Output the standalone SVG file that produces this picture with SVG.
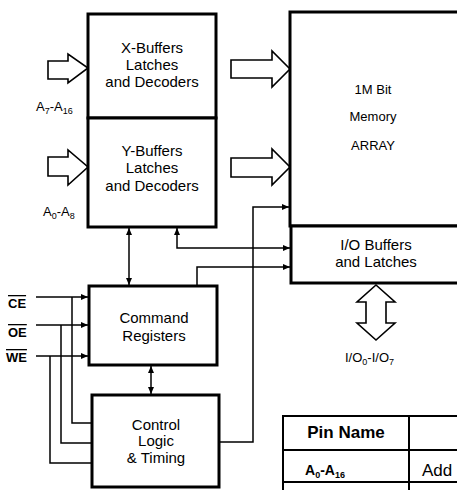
<svg xmlns="http://www.w3.org/2000/svg" width="457" height="490" viewBox="0 0 457 490">
<defs>
<style>
.box{fill:#fff;stroke:#000;stroke-width:3}
.t{font-family:"Liberation Sans",Arial,sans-serif;font-size:15px;fill:#000;text-anchor:middle}
.m{font-family:"Liberation Sans",Arial,sans-serif;font-size:13px;fill:#000;text-anchor:middle}
.lbl{font-family:"Liberation Sans",Arial,sans-serif;font-size:13px;fill:#000}
.sig{font-family:"Liberation Sans",Arial,sans-serif;font-size:13px;font-weight:bold;fill:#000;text-decoration:overline}
.c{fill:none;stroke:#000;stroke-width:1.5}
.blk{fill:#fff;stroke:#000;stroke-width:1.6;stroke-linejoin:miter}
.tb{fill:none;stroke:#000;stroke-width:2}
</style>
<marker id="ah" markerUnits="userSpaceOnUse" markerWidth="7" markerHeight="6" refX="7" refY="3" orient="auto-start-reverse">
<path d="M0,0 L7,3 L0,6 z" fill="#000"/>
</marker>
</defs>
<rect width="457" height="490" fill="#fff"/>

<g id="connectors">
<path class="c" d="M129,228 V285" marker-start="url(#ah)" marker-end="url(#ah)"/>
<path class="c" d="M177,228 V248 H290" marker-start="url(#ah)" marker-end="url(#ah)"/>
<path class="c" d="M197,285 V267 H290" marker-end="url(#ah)"/>
<path class="c" d="M220,442 H253 V207 H289" marker-end="url(#ah)"/>
<path class="c" d="M151,366 V394" marker-start="url(#ah)" marker-end="url(#ah)"/>
<path class="c" d="M36,297 H88" marker-end="url(#ah)"/>
<path class="c" d="M36,325 H88" marker-end="url(#ah)"/>
<path class="c" d="M36,356 H88" marker-end="url(#ah)"/>
<path class="c" d="M72,297 V423 H92"/>
<path class="c" d="M61,325 V443 H92"/>
<path class="c" d="M50,356 V463 H92"/>
<polygon class="blk" points="48,61 68,61 68,54 88,68 68,83 68,79 48,79"/>
<polygon class="blk" points="48,157 68,157 68,150 88,167 68,185 68,176 48,176"/>
<polygon class="blk" points="231,60 272,60 272,51 290,69 272,87 272,78 231,78"/>
<polygon class="blk" points="231,158 272,158 272,149 290,167 272,185 272,177 231,177"/>
<polygon class="blk" points="376,285 395,302 386,302 386,323 395,323 376,340 357,323 366,323 366,302 357,302"/>
</g>

<g id="x-buffers">
<rect class="box" x="88" y="14" width="128" height="104"/>
<text class="t" x="152" y="53">X-Buffers</text>
<text class="t" x="152" y="70">Latches</text>
<text class="t" x="152" y="87">and Decoders</text>
</g>

<g id="y-buffers">
<rect class="box" x="88" y="118" width="128" height="109"/>
<text class="t" x="152" y="156">Y-Buffers</text>
<text class="t" x="152" y="173">Latches</text>
<text class="t" x="152" y="191">and Decoders</text>
</g>

<g id="memory-array">
<rect class="box" x="290" y="12" width="200" height="214"/>
<text class="m" x="373" y="94">1M Bit</text>
<text class="m" x="373" y="121">Memory</text>
<text class="m" x="373" y="150">ARRAY</text>
</g>

<g id="io-buffers">
<rect class="box" x="291" y="226" width="200" height="57"/>
<text class="t" x="376" y="250">I/O Buffers</text>
<text class="t" x="376" y="267">and Latches</text>
</g>

<g id="command-registers">
<rect class="box" x="89" y="286" width="128" height="79"/>
<text class="t" x="154" y="323">Command</text>
<text class="t" x="154" y="341">Registers</text>
</g>

<g id="control-logic">
<rect class="box" x="92" y="395" width="127" height="92"/>
<text class="t" x="156" y="430">Control</text>
<text class="t" x="156" y="446">Logic</text>
<text class="t" x="156" y="463">&amp; Timing</text>
</g>

<g id="labels">
<text class="lbl" x="36" y="111">A<tspan font-size="9" dy="3">7</tspan><tspan dy="-3">-A</tspan><tspan font-size="9" dy="3">16</tspan></text>
<text class="lbl" x="43" y="216">A<tspan font-size="9" dy="3">0</tspan><tspan dy="-3">-A</tspan><tspan font-size="9" dy="3">8</tspan></text>
<text class="lbl" x="345" y="362">I/O<tspan font-size="9" dy="3">0</tspan><tspan dy="-3">-I/O</tspan><tspan font-size="9" dy="3">7</tspan></text>
<text class="sig" x="8" y="308">CE</text>
<text class="sig" x="8" y="337">OE</text>
<text class="sig" x="6" y="362">WE</text>
</g>

<g id="pin-table">
<path class="tb" d="M283,490 V416 H457 M283,450 H457 M283,482 H457 M409,416 V490"/>
<text x="346" y="438" font-family="'Liberation Sans',Arial,sans-serif" font-size="17" font-weight="bold" text-anchor="middle">Pin Name</text>
<text x="305" y="475" font-family="'Liberation Sans',Arial,sans-serif" font-size="14" font-weight="bold">A<tspan font-size="9" dy="3">0</tspan><tspan dy="-3">-A</tspan><tspan font-size="9" dy="3">16</tspan></text>
<text x="422" y="476" font-family="'Liberation Sans',Arial,sans-serif" font-size="17">Add</text>
</g>
</svg>
